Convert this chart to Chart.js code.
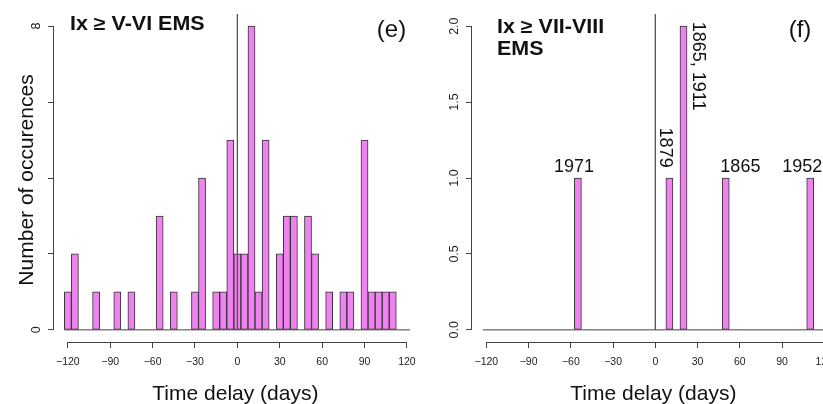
<!DOCTYPE html>
<html lang="en">
<head>
<meta charset="UTF-8" />
<title>Time delay histograms</title>
<script src="https://cdn.jsdelivr.net/npm/chart.js"></script>
<style>
  html, body { margin: 0; padding: 0; background: #fff; overflow: hidden; }
  #wrap { position: relative; width: 823px; height: 404px; overflow: hidden; background: #fff; }
  #wrap canvas { position: absolute; top: 0; left: 0; }
</style>
</head>
<body>
<div id="wrap">
  <canvas id="chartE" width="823" height="404"></canvas>
  <canvas id="chartF" width="870" height="404"></canvas>
</div>
<script>
// 5-day bins (centres, days)
const bins = [-120, -115, -110, -105, -100, -95, -90, -85, -80, -75,
              -70, -65, -60, -55, -50, -45, -40, -35, -30, -25,
              -20, -15, -10, -5, 0, 5, 10, 15, 20, 25,
              30, 35, 40, 45, 50, 55, 60, 65, 70, 75,
              80, 85, 90, 95, 100, 105, 110, 115, 120];

// Ix >= V-VI EMS
const countsE = [1, 2, 0, 0, 1, 0, 0, 1, 0, 1,
                 0, 0, 0, 3, 0, 1, 0, 0, 1, 4,
                 0, 1, 1, 5, 2, 2, 8, 1, 5, 0,
                 2, 3, 3, 0, 3, 2, 0, 1, 0, 1,
                 1, 0, 5, 1, 1, 1, 1, 0, 0];

// Ix >= VII-VIII EMS
const countsF = [0, 0, 0, 0, 0, 0, 0, 0, 0, 0,
                 0, 0, 0, 1, 0, 0, 0, 0, 0, 0,
                 0, 0, 0, 0, 0, 0, 1, 0, 2, 0,
                 0, 0, 0, 0, 1, 0, 0, 0, 0, 0,
                 0, 0, 0, 0, 0, 0, 1, 0, 0];

const xTicks = [-120, -90, -60, -30, 0, 30, 60, 90, 120];
const yTicksE = [0, 2, 4, 6, 8];
const yLabelsE = ['0', '', '', '', '8'];
const yTicksF = [0, 0.5, 1, 1.5, 2];
const yLabelsF = ['0.0', '0.5', '1.0', '1.5', '2.0'];

// years written next to the bars of panel (f)
const yearText = ['1971', '1879', '1865, 1911', '1865', '1952'];
const yearDay  = [-57.7, 7.1, 30.2, 60.4, 104.4];
const yearAt   = [1.07, 1.2, 1.737, 1.07, 1.07];
const yearRot  = [0, 90, 90, 0, 0];

const FONT = 'Liberation Sans, Arial, Helvetica, sans-serif';
const INK = '#222';
const AXIS = '#444';

function decor(chart, o) {
  const ctx = chart.ctx;
  const a = chart.chartArea;
  const x = chart.scales.x, y = chart.scales.y;
  ctx.save();
  ctx.strokeStyle = AXIS;
  ctx.lineWidth = 1;
  ctx.beginPath();
  const xb = Math.round(a.bottom) + 0.5;
  ctx.moveTo(x.getPixelForValue(xTicks[0]), xb);
  ctx.lineTo(x.getPixelForValue(xTicks[xTicks.length - 1]), xb);
  const yl = Math.round(a.left) - 0.5;
  ctx.moveTo(yl, y.getPixelForValue(o.yTicks[0]));
  ctx.lineTo(yl, y.getPixelForValue(o.yTicks[o.yTicks.length - 1]));
  ctx.stroke();

  ctx.fillStyle = INK;
  // rotated y tick labels
  ctx.font = '12.5px ' + FONT;
  ctx.textAlign = 'center';
  ctx.textBaseline = 'middle';
  o.yTicks.forEach((v, i) => {
    if (!o.yLabels[i]) return;
    ctx.save();
    ctx.translate(a.left - 17, y.getPixelForValue(v));
    ctx.rotate(-Math.PI / 2);
    ctx.fillText(o.yLabels[i], 0, 0);
    ctx.restore();
  });

  // axis titles
  ctx.font = '21px ' + FONT;
  ctx.textBaseline = 'alphabetic';
  ctx.fillStyle = '#111';
  ctx.fillText('Time delay (days)', x.getPixelForValue(0) - 2, 399.5);
  if (o.yTitle) {
    ctx.save();
    ctx.translate(33, 180);
    ctx.rotate(-Math.PI / 2);
    ctx.fillText(o.yTitle, 0, 0);
    ctx.restore();
  }

  // panel heading (slightly widened) and tag
  ctx.font = 'bold 19.5px ' + FONT;
  ctx.textAlign = 'left';
  o.heading.forEach((line, i) => {
    ctx.save();
    ctx.translate(o.headX, o.headY + i * 21.5);
    ctx.scale(1.1, 1);
    ctx.fillText(line, 0, 0);
    ctx.restore();
  });
  ctx.font = '24px ' + FONT;
  ctx.textAlign = 'center';
  ctx.fillText(o.tag, o.tagX, 36.5);

  // year notes
  if (o.notes) {
    ctx.font = '18px ' + FONT;
    ctx.textBaseline = 'middle';
    yearText.forEach((t, i) => {
      ctx.save();
      ctx.translate(x.getPixelForValue(yearDay[i]), y.getPixelForValue(yearAt[i]));
      ctx.rotate(yearRot[i] * Math.PI / 180);
      ctx.fillText(t, 0, 0);
      ctx.restore();
    });
  }
  ctx.restore();
}

function panel(id, counts, o) {
  const hist = bins.map((b, i) => ({ x: b, y: counts[i] }));
  return new Chart(document.getElementById(id), {
    type: 'bar',
    data: {
      datasets: [
        { type: 'line', data: [{ x: -122.5, y: 0 }, { x: 122.5, y: 0 }],
          borderColor: AXIS, borderWidth: 1, pointRadius: 0, order: 0 },
        { type: 'line', data: [{ x: 0, y: 0 }, { x: 0, y: o.yMax }],
          borderColor: '#555', borderWidth: 1.3, pointRadius: 0, order: 0 },
        { data: hist, backgroundColor: '#EE82EE', borderColor: '#333', borderWidth: 1,
          borderSkipped: false, barPercentage: 1, categoryPercentage: 1, order: 1 }
      ]
    },
    options: {
      responsive: false,
      animation: false,
      events: [],
      layout: { padding: { left: 0, top: 14, right: o.padRight, bottom: 0 } },
      plugins: { legend: { display: false }, tooltip: { enabled: false } },
      scales: {
        x: {
          type: 'linear', min: o.xMin, max: o.xMax, offset: false,
          afterFit: s => { s.height = 62; s.paddingLeft = 0; s.paddingRight = 0; },
          grid: { drawOnChartArea: false, offset: false, tickLength: 6, color: AXIS },
          border: { display: false },
          ticks: {
            stepSize: 30, includeBounds: false, autoSkip: false, maxRotation: 0,
            padding: 8, color: INK, font: { family: FONT, size: 10.5 },
            callback: v => String(v).replace('-', '\u2212')
          }
        },
        y: {
          min: o.yMin, max: o.yMax,
          afterFit: s => { s.width = o.yWidth; s.paddingTop = 0; s.paddingBottom = 0; },
          grid: { drawOnChartArea: false, tickLength: 6, color: AXIS },
          border: { display: false },
          ticks: { stepSize: o.yStep, includeBounds: false, display: false }
        }
      }
    },
    plugins: [{ id: 'decor', afterDraw: c => decor(c, o) }]
  });
}

panel('chartE', countsE, {
  xMin: -129.8, xMax: 122.2, yMin: -0.32, yMax: 8.32, yStep: 2,
  yWidth: 54, padRight: 413,
  yTicks: yTicksE, yLabels: yLabelsE,
  yTitle: 'Number of occurences',
  heading: ['Ix \u2265 V-VI EMS'], headX: 70, headY: 29.5,
  tag: '(e)', tagX: 391.5
});

panel('chartF', countsF, {
  xMin: -130.2, xMax: 122.2, yMin: -0.08, yMax: 2.08, yStep: 0.5,
  yWidth: 472, padRight: 42.6,
  yTicks: yTicksF, yLabels: yLabelsF,
  heading: ['Ix \u2265 VII-VIII', 'EMS'], headX: 497, headY: 33,
  tag: '(f)', tagX: 800,
  notes: true
});
</script>
</body>
</html>
